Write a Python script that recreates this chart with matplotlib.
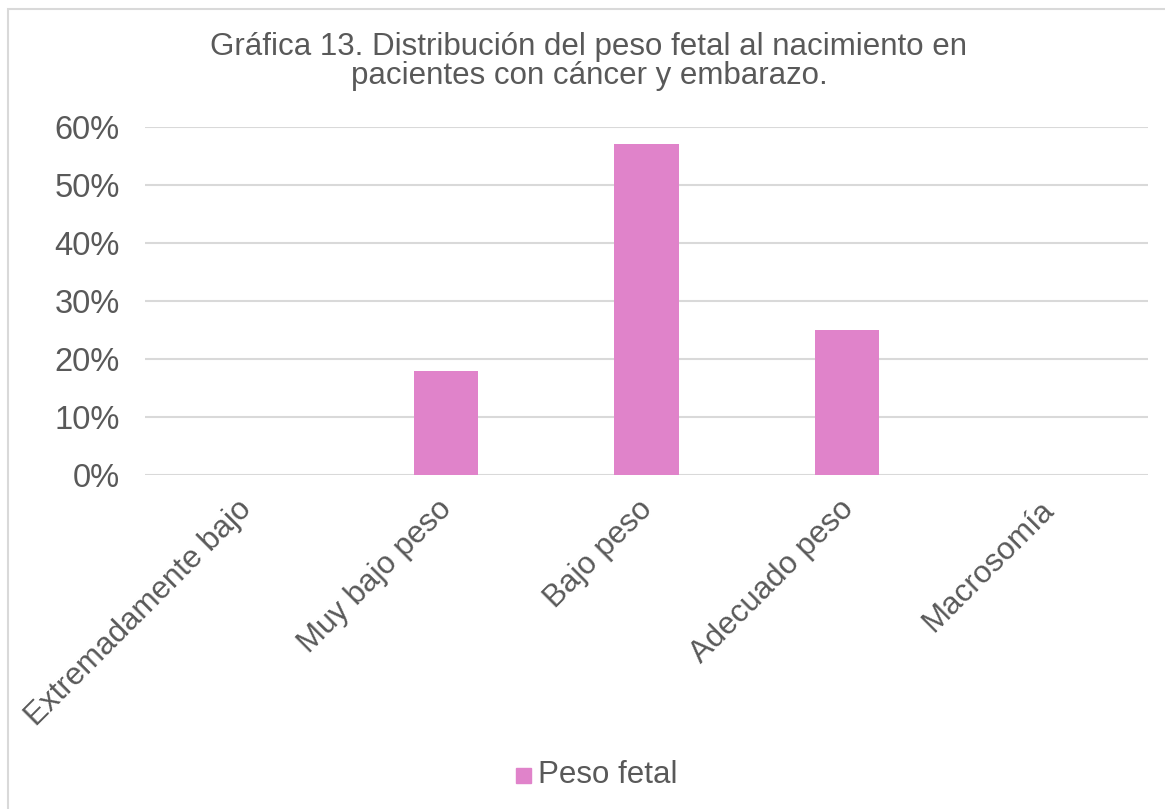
import matplotlib
matplotlib.use("Agg")
import matplotlib.pyplot as plt
from matplotlib.patches import Rectangle
from matplotlib.transforms import ScaledTranslation

categories = ["Extremadamente bajo", "Muy bajo peso", "Bajo peso", "Adecuado peso", "Macrosomía"]
peso_fetal = [0.0, 17.86, 57.14, 25.0, 0.0]
yticks = [0, 10, 20, 30, 40, 50, 60]
title = "Gráfica 13. Distribución del peso fetal al nacimiento en\npacientes con cáncer y embarazo."
series_name = "Peso fetal"

text_color = "#595959"
grid_color = "#D9D9D9"
bar_color = "#E083CA"

plt.rcParams["font.family"] = ["Liberation Sans", "DejaVu Sans"]

W, H = 1165, 809
fig = plt.figure(figsize=(W / 100, H / 100), dpi=100)

# outer chart frame (right and bottom edges fall outside the canvas)
fig.patches.append(Rectangle((8 / W, 1 - 815 / H), (1175 - 8) / W, (815 - 9) / H,
                             transform=fig.transFigure, fill=False,
                             edgecolor=grid_color, linewidth=1.5))

left, right, top, bottom = 145, 1148, 127, 475
ax = fig.add_axes([left / W, 1 - bottom / H, (right - left) / W, (bottom - top) / H])

x = list(range(len(categories)))
ax.bar(x, peso_fetal, width=0.32, color=bar_color, zorder=3)
ax.set_xlim(-0.5, len(categories) - 0.5)
ax.set_ylim(0, 60)
ax.set_yticks(yticks)
ax.set_yticklabels([f"{v}%" for v in yticks], fontsize=23.5, color=text_color)
ax.yaxis.grid(True, color=grid_color, linewidth=1.5, zorder=0)
ax.tick_params(axis="y", length=0, pad=18)
ax.tick_params(axis="x", length=0, pad=14)
ax.set_xticks(x)
ax.set_xticklabels(categories, rotation=45, ha="right", va="top",
                   rotation_mode="anchor", fontsize=22.5, color=text_color)
shift = ScaledTranslation(-9 / 100, 0, fig.dpi_scale_trans)
for lbl in ax.get_xticklabels():
    lbl.set_transform(lbl.get_transform() + shift)
for s in ax.spines.values():
    s.set_visible(False)

fig.text(589 / W, 1 - 61.5 / H, title, ha="center", va="center",
         fontsize=22.5, color=text_color, linespacing=0.95)

# legend
fig.patches.append(Rectangle((516 / W, 1 - 783 / H), 15 / W, 15 / H,
                             transform=fig.transFigure, color=bar_color))
fig.text(538 / W, 1 - 775 / H, series_name, ha="left", va="center",
         fontsize=22.5, color=text_color)

fig.savefig("out.png", dpi=100)
